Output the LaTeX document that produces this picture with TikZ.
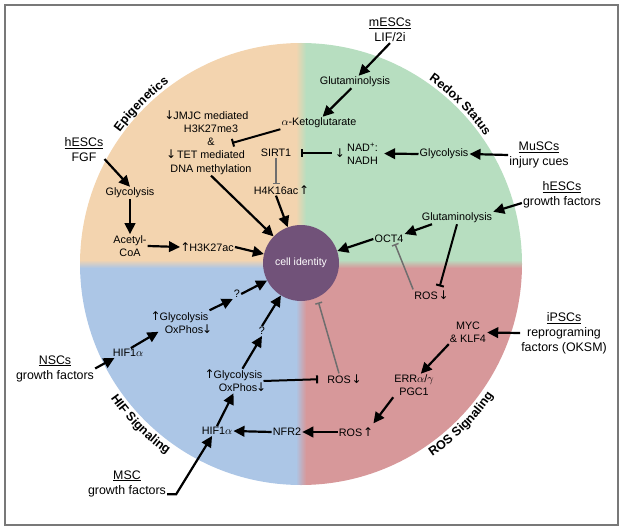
\documentclass[tikz,border=0pt]{standalone}
\usepackage{fontspec}
\setmainfont{Liberation Sans}
\newfontfamily\arrowfont{DejaVu Sans}
\usetikzlibrary{arrows.meta,decorations.text,calc}
\definecolor{peach}{RGB}{243,212,175}
\definecolor{mint}{RGB}{183,222,192}
\definecolor{sky}{RGB}{172,198,230}
\definecolor{rose}{RGB}{215,152,154}
\definecolor{cellpurple}{RGB}{113,82,121}
\definecolor{framegray}{RGB}{120,120,120}
\definecolor{inhgray}{RGB}{110,110,110}
\newcommand{\infont}{\fontsize{10.8}{13.2}\selectfont}
\newcommand{\outfont}{\fontsize{12.4}{15}\selectfont}
\newcommand{\curvefont}{\fontsize{12.5}{15}\selectfont\bfseries}
\newcommand{\upa}{{\arrowfont\fontsize{12}{13}\selectfont\kern-1pt↑\kern-1pt}}
\newcommand{\dna}{{\arrowfont\fontsize{12}{13}\selectfont\kern-1pt↓\kern-1pt}}
\begin{document}
\begin{tikzpicture}[x=1pt,y=1pt,
  lbl/.style={font=\infont, inner sep=1pt, align=center},
  olbl/.style={font=\outfont, inner sep=1pt, align=center},
  cibox/.style={circle, fill=cellpurple, text=white, minimum size=76pt, inner sep=0pt, font=\fontsize{10.5}{12}\selectfont},
  arr/.style={line width=2.2pt, -{Triangle[length=11pt,width=10.5pt]}},
  inh/.style={line width=2pt, -{Bar[width=8pt]}},
  ginh/.style={line width=1.5pt, draw=inhgray, -{Bar[width=7pt]}},
  curve/.style={decorate, decoration={text along path, text align=center, text={|\curvefont|#1}}}
]
\useasboundingbox (0,0) rectangle (624,-532);
\draw[framegray, line width=1.5pt] (5,-5) rectangle (618,-525);
\coordinate (C) at (301,-264);
\begin{scope}
\clip (C) circle[radius=221pt];
\fill[peach] (C) rectangle ++(-225,225);
\fill[mint] (C) rectangle ++(225,225);
\fill[sky] (C) rectangle ++(-225,-225);
\fill[rose] (C) rectangle ++(225,-225);
\shade[left color=peach,right color=mint] ($(C)+(-5,0)$) rectangle ($(C)+(5,225)$);
\shade[left color=sky,right color=rose] ($(C)+(-5,0)$) rectangle ($(C)+(5,-225)$);
\shade[top color=peach,bottom color=sky] ($(C)+(-225,4)$) rectangle ($(C)+(0,-4)$);
\shade[top color=mint,bottom color=rose] ($(C)+(0,4)$) rectangle ($(C)+(225,-4)$);
\end{scope}

% curved section titles
\path[curve={Epigenetics}] ($(C)+(160:224pt)$) arc[start angle=160, end angle=110, radius=224pt];
\path[curve={Redox Status}] ($(C)+(72:224pt)$) arc[start angle=72, end angle=18, radius=224pt];
\path[curve={HIF Signaling}] ($(C)+(198:233pt)$) arc[start angle=198, end angle=252, radius=233pt];
\path[curve={ROS Signaling}] ($(C)+(-72:233pt)$) arc[start angle=-72, end angle=-18, radius=233pt];

% nodes
\node[cibox] (ci) at (301,-263) {cell identity};
\node[olbl] (hescA) at (84,-149.5) {\underline{hESCs}\\FGF};
\node[lbl] (glyA) at (130,-193) {Glycolysis};
\node[lbl] (acoa) at (130,-246) {Acetyl-\\CoA};
\node[lbl] (h3ac) at (207.5,-247) {\upa H3K27ac};
\node[lbl] (jm) at (211,-142.5) {\leavevmode\llap{\dna}JMJC mediated\\H3K27me3\\\&\\\leavevmode\llap{\dna\,}TET mediated\\DNA methylation};
\coordinate (jmR) at (232,-143);
\node[lbl] (akg) at (319,-123) {$\alpha$-Ketoglutarate};
\node[lbl] (sirt) at (276,-153) {SIRT1};
\node[lbl] (h4k) at (276,-190) {H4K16ac\rlap{\,\upa}};
\node[olbl] (mesc) at (390,-30) {\underline{mESCs}\\LIF/2i};
\node[lbl] (glutA) at (355,-82) {Glutaminolysis};
\node[lbl, align=left, anchor=west] (nad) at (346,-153.5) {NAD\textsuperscript{+}:\\NADH};
\node[lbl] (nadd) at (340,-153) {\dna};
\node[lbl] (glyB) at (444,-154) {Glycolysis};
\node[olbl] (musc) at (539,-155) {\underline{MuSCs}\\injury cues};
\node[olbl] (hescB) at (562,-194.5) {\underline{hESCs}\\growth factors};
\node[lbl] (glutB) at (457,-218) {Glutaminolysis};
\node[lbl] (oct4) at (389,-239) {OCT4};
\node[lbl] (rosA) at (426,-295) {ROS\rlap{\,\dna}};
\node[olbl] (ipsc) at (564,-333) {\underline{iPSCs}\\reprograming\\factors (OKSM)};
\node[lbl] (myc) at (468,-332.5) {MYC\\\& KLF4};
\node[lbl] (err) at (414,-385.5) {ERR$\alpha$/$\gamma$\\PGC1};
\node[lbl] (rosUp) at (350.5,-432) {ROS\rlap{\,\upa}};
\node[lbl] (rosB) at (339,-379) {ROS\rlap{\,\dna}};
\node[lbl] (nfr2) at (287,-432) {NFR2};
\node[lbl] (hifB) at (217,-431) {HIF1$\alpha$};
\node[lbl] (glyD) at (238,-381) {\leavevmode\llap{\upa}Glycolysis\\OxPhos\rlap{\dna}};
\node[lbl] (qB) at (262,-331) {?};
\node[lbl] (glyC) at (184,-322.5) {\leavevmode\llap{\upa}Glycolysis\\OxPhos\rlap{\dna}};
\node[lbl] (qA) at (237,-294) {?};
\node[lbl] (hifA) at (128,-353) {HIF1$\alpha$};
\node[olbl] (nsc) at (55,-368.5) {\underline{NSCs}\\growth factors};
\node[olbl] (msc) at (127,-483.5) {\underline{MSC}\\growth factors};

% connectors
\draw[arr] (hescA.-25) -- (glyA.north);
\draw[arr] (glyA.south) -- (acoa.north);
\draw[arr] (acoa.east) -- (h3ac.west);
\draw[arr] (h3ac.east) -- (ci);
\draw[arr] (jm.south) -- (ci);
\draw[arr] (h4k.south) -- (ci);
\draw[inh] (akg.south west) -- (jmR);
\draw[arr] (glutA.240) -- (akg.60);
\draw[arr] (mesc.south) -- (glutA.60);
\draw[inh, shorten <=3pt, shorten >=9pt] (nadd.west) -- (sirt.east);
\draw[ginh] (sirt.south) -- (h4k.north);
\draw[arr, shorten >=5pt] (glyB.west) -- (nad.east);
\draw[arr] (musc.west) -- (glyB.east);
\draw[arr] (hescB.192) -- (glutB.north east);
\draw[arr] (glutB.194) -- (oct4.north east);
\draw[arr] (oct4.west) -- (ci);
\draw[inh, shorten >=3pt] (glutB.south) -- (rosA.north east);
\draw[ginh] (rosA.north west) -- (oct4.-40);
\draw[arr] (ipsc.west) -- (myc.east);
\draw[arr] (myc.south west) -- (err.60);
\draw[arr] (err.south west) -- ($(rosUp.north east)+(10,3)$);
\draw[arr] (rosUp.west) -- (nfr2.east);
\draw[arr] (nfr2.west) -- (hifB.east);
\draw[arr] (hifB.north) -- (glyD.250);
\draw[arr] (glyD.70) -- (qB.south);
\draw[arr] (qB.north) -- (ci);
\draw[inh, shorten >=8pt] (glyD.east) -- (rosB.west);
\draw[ginh, shorten >=5pt] (rosB.north) -- (ci.-65);
\draw[arr] (glyC.north east) -- (qA.south west);
\draw[arr] (qA.east) -- (ci);
\draw[arr] (hifA.60) -- (glyC.200);
\draw[arr] (nsc.east) -- (hifA.200);
\draw[arr] (msc.-15) -- ++(9,0) -- (hifB.225);
\end{tikzpicture}
\end{document}
